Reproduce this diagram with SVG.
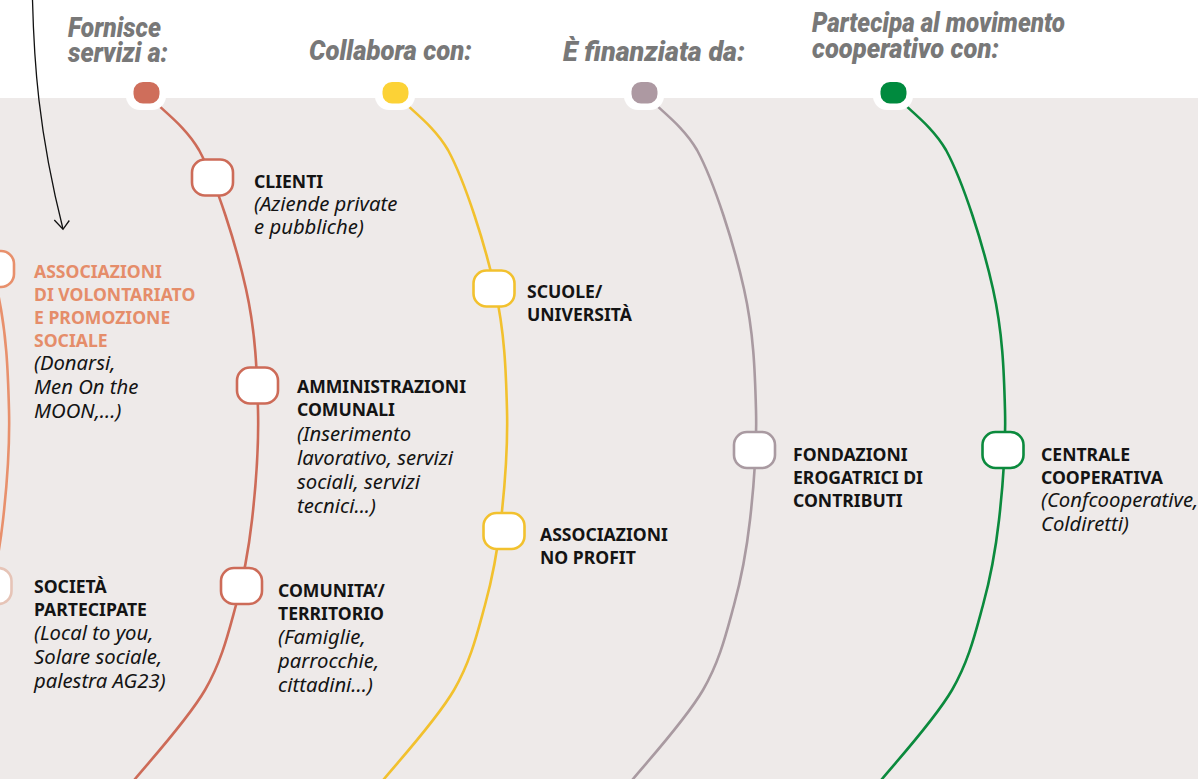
<svg xmlns="http://www.w3.org/2000/svg" width="1198" height="779" viewBox="0 0 1198 779">
<defs>
<style>
.arc{fill:none;stroke-width:2.6;stroke-linecap:round}
.node{fill:#fff;stroke-width:2.6}
.halo{fill:#fff}
.b{font-family:"Noto Sans","Open Sans",sans-serif;font-weight:700;font-size:17.6px;fill:#141414}
.i{font-family:"Noto Sans","Open Sans",sans-serif;font-style:italic;font-size:20.3px;fill:#141414}
.h{font-family:Roboto,"Liberation Sans",sans-serif;font-weight:900;font-style:italic;font-size:27px;fill:#787878}
.red{stroke:#cd6b58}.yel{stroke:#f2c12e}.gry{stroke:#a99aa1}.grn{stroke:#0b8a3d}.org{stroke:#e8906c}
</style>
<path id="arcShape" d="M0,93 C14,109 38,124 53,150 C70.7,182.7 90.3,245.7 100,289 C109.7,332.3 111,371.5 112,410 C113,448.5 109.7,487.5 106,520 C102.3,552.5 97.8,576.7 90,605 C82.2,633.3 75.8,661 59,690 C42.2,719 6.3,758.2 -11,779 C-28.3,799.8 -40,808 -45,815"/>
</defs>
<rect x="0" y="0" width="1198" height="779" fill="#ffffff"/>
<rect x="0" y="98" width="1198" height="681" fill="#eeeae9"/>

<g id="headers">
<text class="h" x="68" y="36.5" textLength="93" lengthAdjust="spacingAndGlyphs">Fornisce</text>
<text class="h" x="68" y="62" textLength="100" lengthAdjust="spacingAndGlyphs">servizi a:</text>
<text class="h" x="309" y="60" textLength="163" lengthAdjust="spacingAndGlyphs">Collabora con:</text>
<text class="h" x="563" y="61" textLength="182" lengthAdjust="spacingAndGlyphs">È finanziata da:</text>
<text class="h" x="812" y="32" textLength="253" lengthAdjust="spacingAndGlyphs">Partecipa al movimento</text>
<text class="h" x="812" y="58" textLength="187" lengthAdjust="spacingAndGlyphs">cooperativo con:</text>
</g>

<g id="connectors">
<use href="#arcShape" class="arc org" transform="translate(-103,0)"/>
<use href="#arcShape" class="arc red" transform="translate(146,0)"/>
<use href="#arcShape" class="arc yel" transform="translate(395,0)"/>
<use href="#arcShape" class="arc gry" transform="translate(644,0)"/>
<use href="#arcShape" class="arc grn" transform="translate(893,0)"/>
<path d="M32.5,0 C34,60 38,130 63,229" fill="none" stroke="#111" stroke-width="1.3"/>
<path d="M54.3,220 L63,229.3 L69.3,220.5" fill="none" stroke="#111" stroke-width="1.3"/>
</g>

<g id="dot-red"><rect class="halo" x="126" y="76" width="40" height="34" rx="14"/><rect x="133.5" y="82" width="26" height="21.5" rx="9.5" fill="#cf6e5b"/></g>
<g id="dot-yellow"><rect class="halo" x="375" y="76" width="40" height="34" rx="14"/><rect x="382.5" y="82" width="26" height="21.5" rx="9.5" fill="#fcd236"/></g>
<g id="dot-grey"><rect class="halo" x="624" y="76" width="40" height="34" rx="14"/><rect x="631.5" y="82" width="26" height="21.5" rx="9.5" fill="#ad99a2"/></g>
<g id="dot-green"><rect class="halo" x="873" y="76" width="40" height="34" rx="14"/><rect x="880.5" y="82" width="26" height="21.5" rx="9.5" fill="#008a3e"/></g>

<g id="node-associazioni">
<rect class="node" x="-27" y="251" width="41" height="36" rx="13" stroke="#e8906c"/>
<text class="b" style="fill:#e58d6a"><tspan x="34" y="278">ASSOCIAZIONI</tspan><tspan x="34" y="301">DI VOLONTARIATO</tspan><tspan x="34" y="324">E PROMOZIONE</tspan><tspan x="34" y="347">SOCIALE</tspan></text>
<text class="i"><tspan x="34" y="370">(Donarsi,</tspan><tspan x="34" y="394">Men On the</tspan><tspan x="34" y="418">MOON,...)</tspan></text>
</g>

<g id="node-societa">
<rect class="node" x="-29.5" y="568" width="41" height="36" rx="13" stroke="#e6c4b7"/>
<text class="b"><tspan x="34" y="593">SOCIETÀ</tspan><tspan x="34" y="616">PARTECIPATE</tspan></text>
<text class="i"><tspan x="34" y="640">(Local to you,</tspan><tspan x="34" y="664">Solare sociale,</tspan><tspan x="34" y="688">palestra AG23)</tspan></text>
</g>

<g id="node-clienti">
<rect class="node red" x="192" y="159.5" width="41" height="36" rx="13"/>
<text class="b"><tspan x="254" y="188">CLIENTI</tspan></text>
<text class="i"><tspan x="254" y="211">(Aziende private</tspan><tspan x="254" y="234">e pubbliche)</tspan></text>
</g>

<g id="node-amministrazioni">
<rect class="node red" x="237" y="367.5" width="41" height="36" rx="13"/>
<text class="b"><tspan x="297" y="393">AMMINISTRAZIONI</tspan><tspan x="297" y="416">COMUNALI</tspan></text>
<text class="i"><tspan x="297" y="441">(Inserimento</tspan><tspan x="297" y="465">lavorativo, servizi</tspan><tspan x="297" y="489">sociali, servizi</tspan><tspan x="297" y="513">tecnici...)</tspan></text>
</g>

<g id="node-comunita">
<rect class="node red" x="221" y="568" width="41" height="36" rx="13"/>
<text class="b"><tspan x="278" y="597">COMUNITA’/</tspan><tspan x="278" y="620">TERRITORIO</tspan></text>
<text class="i"><tspan x="278" y="644">(Famiglie,</tspan><tspan x="278" y="668">parrocchie,</tspan><tspan x="278" y="692">cittadini...)</tspan></text>
</g>

<g id="node-scuole">
<rect class="node yel" x="473.5" y="270.5" width="41" height="36" rx="13"/>
<text class="b"><tspan x="527" y="298">SCUOLE/</tspan><tspan x="527" y="321">UNIVERSITÀ</tspan></text>
</g>

<g id="node-noprofit">
<rect class="node yel" x="483.5" y="513" width="41" height="36" rx="13"/>
<text class="b"><tspan x="540" y="541">ASSOCIAZIONI</tspan><tspan x="540" y="564">NO PROFIT</tspan></text>
</g>

<g id="node-fondazioni">
<rect class="node gry" x="734" y="432" width="41" height="36" rx="13"/>
<text class="b"><tspan x="793" y="461">FONDAZIONI</tspan><tspan x="793" y="484">EROGATRICI DI</tspan><tspan x="793" y="507">CONTRIBUTI</tspan></text>
</g>

<g id="node-centrale">
<rect class="node grn" x="982.5" y="432" width="41" height="36" rx="13"/>
<text class="b"><tspan x="1041" y="461">CENTRALE</tspan><tspan x="1041" y="484">COOPERATIVA</tspan></text>
<text class="i"><tspan x="1041" y="507">(Confcooperative,</tspan><tspan x="1041" y="531">Coldiretti)</tspan></text>
</g>
</svg>
